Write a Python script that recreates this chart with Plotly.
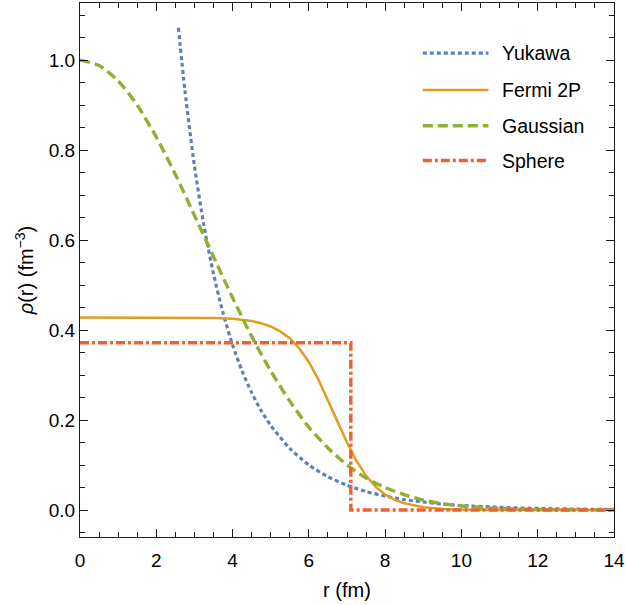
import plotly.graph_objects as go

# Radial charge-density models rho(r) in fm^-3, r in fm
r_yukawa = [2.58, 2.75, 3.0, 3.25, 3.5, 3.75, 4.0, 4.25, 4.5, 4.75, 5.0, 5.5, 6.0,
            6.5, 7.0, 7.5, 8.0, 8.5, 9.0, 9.5, 10.0, 11.0, 12.0, 13.0, 14.0]
rho_yukawa = [1.072, 0.933, 0.765, 0.632, 0.525, 0.438, 0.367, 0.309, 0.261, 0.221,
              0.188, 0.137, 0.100, 0.074, 0.055, 0.041, 0.031, 0.023, 0.018, 0.013,
              0.010, 0.006, 0.0035, 0.002, 0.0012]

r_fermi = [0.0, 1.0, 2.0, 3.0, 3.5, 4.0, 4.5, 4.75, 5.0, 5.25, 5.5, 5.75, 6.0, 6.25,
           6.5, 6.75, 7.0, 7.25, 7.5, 7.75, 8.0, 8.25, 8.5, 9.0, 9.5, 10.0, 11.0,
           12.0, 14.0]
rho_fermi = [0.428, 0.428, 0.428, 0.427, 0.427, 0.425, 0.420, 0.415, 0.408, 0.397,
             0.382, 0.359, 0.329, 0.290, 0.245, 0.197, 0.150, 0.109, 0.076, 0.052,
             0.034, 0.0225, 0.015, 0.006, 0.0024, 0.001, 0.0002, 0.0, 0.0]

r_gauss = [0.0, 0.5, 1.0, 1.5, 2.0, 2.5, 3.0, 3.5, 4.0, 4.5, 5.0, 5.5, 6.0, 6.5, 7.0,
           7.5, 8.0, 8.5, 9.0, 9.5, 10.0, 10.5, 11.0, 11.5, 12.0, 12.5, 13.0, 13.5, 14.0]
rho_gauss = [1.000, 0.988, 0.954, 0.900, 0.829, 0.746, 0.655, 0.563, 0.472, 0.386,
             0.309, 0.242, 0.184, 0.138, 0.100, 0.071, 0.050, 0.034, 0.022, 0.014,
             0.009, 0.006, 0.0034, 0.002, 0.0012, 0.0007, 0.0004, 0.0002, 0.0001]

r_sphere = [0.0, 7.1, 7.1, 14.0]
rho_sphere = [0.372, 0.372, 0.0, 0.0]

names = ["Yukawa", "Fermi 2P", "Gaussian", "Sphere"]
colors = ["#5E81B5", "#E19C24", "#8FB032", "#EB6235"]
dashes = ["4px,3px", "solid", "10px,5px", "9px,3px,3px,3px"]
widths = [3.2, 2.5, 3.4, 3.5]

FONT = "Liberation Sans, Arial, Helvetica, sans-serif"

series = [
    (r_yukawa, rho_yukawa, "spline"),
    (r_fermi, rho_fermi, "linear"),
    (r_gauss, rho_gauss, "spline"),
    (r_sphere, rho_sphere, "linear"),
]

fig = go.Figure()
for (rx, ry, shape), name, c, d, w in zip(series, names, colors, dashes, widths):
    line = dict(color=c, width=w, dash=d, shape=shape)
    if shape == "spline":
        line["smoothing"] = 0.7
    fig.add_trace(go.Scatter(
        x=rx, y=ry, mode="lines", name=name, line=line,
        showlegend=False, cliponaxis=True,
    ))

# Legend drawn inside the frame: line sample + label
leg_y = [0.906, 0.837, 0.770, 0.705]
for name, c, d, w, yy in zip(names, colors, dashes, widths, leg_y):
    fig.add_shape(type="line", xref="paper", yref="paper",
                  x0=0.642, x1=0.765, y0=yy, y1=yy,
                  line=dict(color=c, width=w, dash=d))
    fig.add_annotation(xref="paper", yref="paper", x=0.787, y=yy,
                       text=name, showarrow=False, xanchor="left", yanchor="middle",
                       font=dict(family=FONT, size=19.5, color="#000000"))

axis_common = dict(
    showline=True, linecolor="#1a1a1a", linewidth=1.3, mirror="allticks",
    ticks="inside", tickcolor="#1a1a1a", tickwidth=1, ticklen=8,
    showgrid=False, zeroline=False,
    tickfont=dict(family=FONT, size=19, color="#000000"),
)

fig.update_xaxes(
    range=[0, 14], tick0=0, dtick=2, ticklabelstandoff=6,
    minor=dict(dtick=0.5, ticklen=4.5, tickcolor="#1a1a1a", tickwidth=1, ticks="inside"),
    title=dict(text="r (fm)", font=dict(family=FONT, size=20, color="#000000"), standoff=13),
    **axis_common,
)
fig.update_yaxes(
    range=[-0.06, 1.127], tick0=0, dtick=0.2, tickformat=".1f",
    minor=dict(dtick=0.05, tick0=0, ticklen=4.5, tickcolor="#1a1a1a", tickwidth=1, ticks="inside"),
    title=dict(text="<i>ρ</i>(r) (fm<sup>−3</sup>)",
               font=dict(family=FONT, size=20, color="#000000"), standoff=9),
    **axis_common,
)

fig.update_layout(
    width=626, height=605,
    margin=dict(l=80, r=12, t=3, b=68, autoexpand=False),
    paper_bgcolor="white", plot_bgcolor="white",
    font=dict(family=FONT, color="#000000"),
)

fig.write_html("out.html")
